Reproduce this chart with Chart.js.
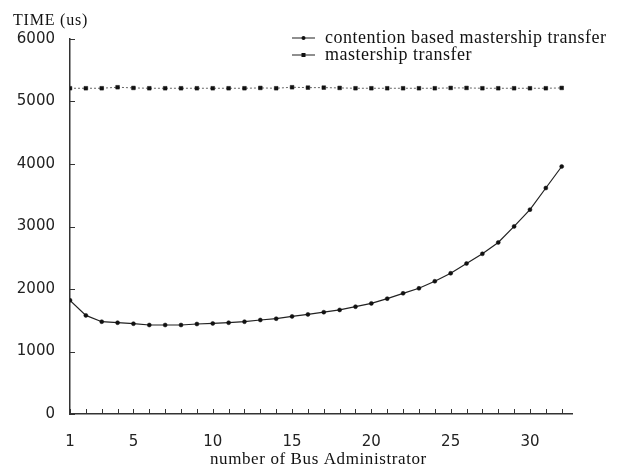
<!DOCTYPE html>
<html>
<head>
<meta charset="utf-8">
<script src="https://cdn.jsdelivr.net/npm/chart.js@4.4.0/dist/chart.umd.min.js"></script>
<style>
  html, body { margin: 0; background: #fff; }
  #wrap { width: 620px; height: 471px; }
</style>
</head>
<body>
<div id="wrap"><canvas id="chart"></canvas></div>
<script>
// number of bus administrators (x)
const busAdmins = [1, 2, 3, 4, 5, 6, 7, 8, 9, 10, 11, 12, 13, 14, 15, 16,
  17, 18, 19, 20, 21, 22, 23, 24, 25, 26, 27, 28, 29, 30, 31, 32];

// time in us
const contentionTimes = [1819, 1578, 1477, 1461, 1445, 1424, 1424, 1424, 1440, 1449,
  1461, 1477, 1504, 1525, 1562, 1594, 1629, 1665, 1717, 1770, 1846, 1931,
  2011, 2124, 2252, 2408, 2563, 2745, 3002, 3270, 3616, 3960];
const mastershipTimes = [5212, 5212, 5212, 5228, 5217, 5212, 5212, 5212, 5212, 5212,
  5212, 5212, 5217, 5212, 5228, 5222, 5222, 5217, 5212, 5212, 5212, 5212,
  5212, 5212, 5217, 5217, 5212, 5212, 5212, 5212, 5212, 5217];

const seriesNames = ['contention based mastership transfer', 'mastership transfer'];
const xLabelTicks = [1, 5, 10, 15, 20, 25, 30];
const yTickValues = [0, 1000, 2000, 3000, 4000, 5000, 6000];
const xTitle = 'number of Bus Administrator';
const yTitle = 'TIME (us)';

const serif = '"Liberation Serif", "DejaVu Serif", serif';
const sans = '"DejaVu Sans", sans-serif';

// small tick marks inside the axes, the axis titles and the legend
const decorations = {
  id: 'decorations',
  afterDraw(chart) {
    const { ctx, scales: { x, y } } = chart;
    ctx.save();
    ctx.strokeStyle = '#333';
    ctx.lineWidth = 1;
    busAdmins.forEach(v => {
      const px = Math.round(x.getPixelForValue(v)) + 0.5;
      ctx.beginPath();
      ctx.moveTo(px, y.bottom);
      ctx.lineTo(px, y.bottom - 5);
      ctx.stroke();
    });
    yTickValues.forEach(v => {
      const py = Math.round(y.getPixelForValue(v)) + 0.5;
      ctx.beginPath();
      ctx.moveTo(x.left, py);
      ctx.lineTo(x.left + 5, py);
      ctx.stroke();
    });

    ctx.fillStyle = '#111';
    ctx.textBaseline = 'middle';
    ctx.textAlign = 'left';
    ctx.font = '16px ' + serif;
    ctx.letterSpacing = '0.8px';
    ctx.fillText(yTitle, 13, 21);

    ctx.font = '17px ' + serif;
    ctx.letterSpacing = '0.6px';
    ctx.fillText(xTitle, 210, 460);

    // legend
    ctx.font = '18px ' + serif;
    ctx.letterSpacing = '0.5px';
    chart.data.datasets.forEach((ds, i) => {
      const ly = 38 + i * 17;
      ctx.strokeStyle = '#444';
      ctx.lineWidth = 1.2;
      ctx.beginPath();
      ctx.moveTo(292, ly);
      ctx.lineTo(315, ly);
      ctx.stroke();
      ctx.fillStyle = '#111';
      if (ds.pointStyle === 'rect') {
        ctx.fillRect(301.5, ly - 2, 4, 4);
      } else {
        ctx.beginPath();
        ctx.arc(303.5, ly, 2, 0, Math.PI * 2);
        ctx.fill();
      }
      ctx.fillText(ds.label, 325, ly);
    });
    ctx.restore();
  }
};

new Chart(document.getElementById('chart'), {
  type: 'line',
  data: {
    datasets: [
      {
        label: seriesNames[0],
        data: busAdmins.map((b, i) => ({ x: b, y: contentionTimes[i] })),
        borderColor: '#222',
        borderWidth: 1.2,
        pointStyle: 'circle',
        pointRadius: 2,
        pointBackgroundColor: '#111',
        pointBorderColor: '#111',
        pointBorderWidth: 0.5,
        tension: 0
      },
      {
        label: seriesNames[1],
        data: busAdmins.map((b, i) => ({ x: b, y: mastershipTimes[i] })),
        borderColor: '#666',
        borderWidth: 1,
        borderDash: [2, 2],
        pointStyle: 'rect',
        pointRadius: 2.6,
        pointBackgroundColor: '#111',
        pointBorderColor: '#111',
        pointBorderWidth: 0.5,
        tension: 0
      }
    ]
  },
  options: {
    responsive: true,
    maintainAspectRatio: false,
    animation: false,
    layout: { padding: { top: 39, right: 48, left: 0, bottom: 0 } },
    plugins: { legend: { display: false }, tooltip: { enabled: false } },
    scales: {
      x: {
        type: 'linear',
        min: 1,
        max: 32.65,
        afterBuildTicks(scale) {
          scale.ticks = xLabelTicks.map(v => ({ value: v }));
        },
        afterFit(scale) { scale.height = 57; },
        grid: { display: false, drawTicks: false },
        border: { color: '#333', width: 1.5 },
        ticks: {
          autoSkip: false,
          maxRotation: 0,
          padding: 19,
          color: '#222',
          font: { family: sans, size: 15 },
          callback: v => String(v)
        }
      },
      y: {
        min: 0,
        max: 6000,
        afterBuildTicks(scale) {
          scale.ticks = yTickValues.map(v => ({ value: v }));
        },
        afterFit(scale) { scale.width = 70; },
        grid: { display: false, drawTicks: false },
        border: { color: '#333', width: 1.5 },
        ticks: {
          padding: 15,
          color: '#222',
          font: { family: sans, size: 15 },
          callback: v => String(v)
        }
      }
    }
  },
  plugins: [decorations]
});
</script>
</body>
</html>
